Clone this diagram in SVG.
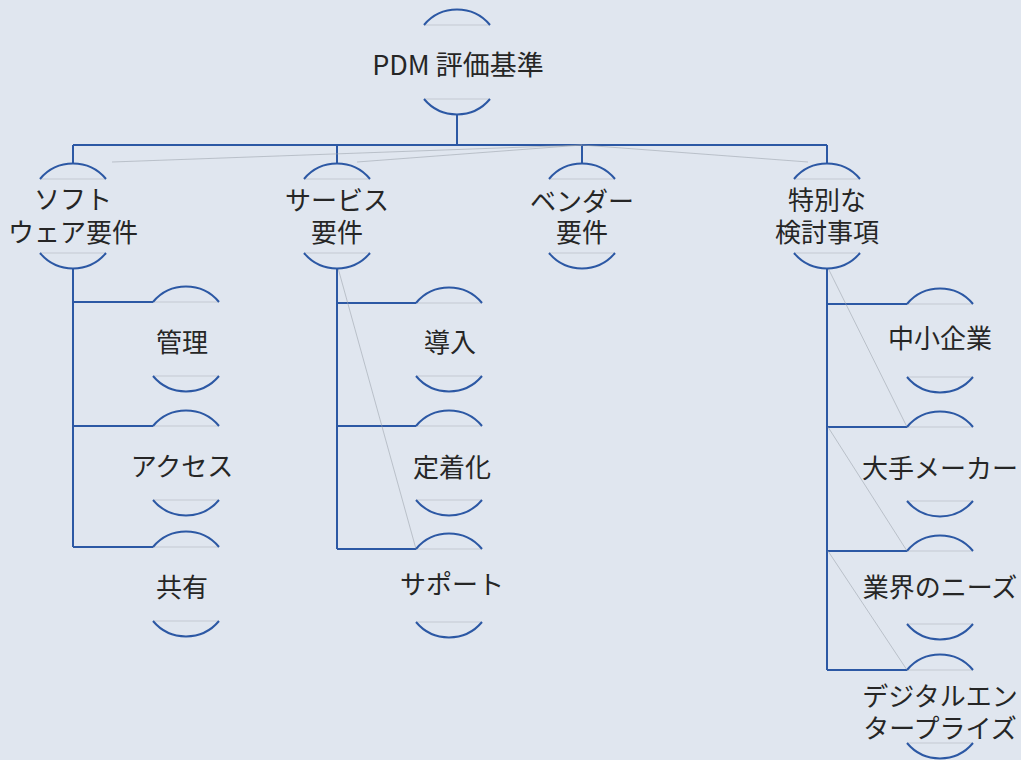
<svg xmlns="http://www.w3.org/2000/svg" width="1021" height="760" viewBox="0 0 1021 760">
<defs>
<style>
.arc{fill:none;stroke:#2c58a4;stroke-width:2}
.chord{fill:none;stroke:#c4c9d2;stroke-width:1}
.edge{fill:none;stroke:#2c58a4;stroke-width:2}
.faint{fill:none;stroke:#9aa1ab;stroke-width:0.8;opacity:0.7}
.lbl{font-family:"Noto Sans CJK JP","Noto Sans",sans-serif;font-size:26px;fill:#262626;text-anchor:middle;dominant-baseline:central}
</style>
</defs>
<rect width="1021" height="760" fill="#e0e6ef"/>
<g id="connectors">
<path class="edge" d="M457 115 V145 M73 145 H827 M73 145 V163 M337 145 V163 M582 145 V163 M827 145 V163"/>
<path class="edge" d="M73 268 V547 M73 302 H153 M73 426 H153 M73 547 H153"/>
<path class="edge" d="M337 268 V549 M337 303 H416 M337 426 H416 M337 549 H416"/>
<path class="edge" d="M827 268 V670 M827 304 H907 M827 427 H907 M827 551 H907 M827 670 H907"/>
<path class="faint" d="M112 162 L582 145 M357 162 L582 145 M582 145 L808 162"/>
<path class="faint" d="M338 268 L416 549 M828 268 L907 427 M828 427 L907 551 M828 551 L907 670"/>
</g>
<g id="root">
<line class="chord" x1="424" y1="25" x2="490" y2="25"/>
<line class="chord" x1="424" y1="99" x2="490" y2="99"/>
<path class="arc" d="M424 25 A43 43 0 0 1 490 25"/>
<path class="arc" d="M424 99 A43 43 0 0 0 490 99"/>
<text class="lbl" x="458" y="63" style="font-size:27px">PDM 評価基準</text>
</g>
<g id="n-software">
<line class="chord" x1="40" y1="179" x2="106" y2="179"/>
<line class="chord" x1="40" y1="253" x2="106" y2="253"/>
<path class="arc" d="M40 179 A43 43 0 0 1 106 179"/>
<path class="arc" d="M40 253 A43 43 0 0 0 106 253"/>
<text class="lbl" x="73" y="197">ソフト</text>
<text class="lbl" x="73" y="230">ウェア要件</text>
</g>
<g id="n-service">
<line class="chord" x1="304" y1="179" x2="370" y2="179"/>
<line class="chord" x1="304" y1="253" x2="370" y2="253"/>
<path class="arc" d="M304 179 A43 43 0 0 1 370 179"/>
<path class="arc" d="M304 253 A43 43 0 0 0 370 253"/>
<text class="lbl" x="337" y="198">サービス</text>
<text class="lbl" x="337" y="230">要件</text>
</g>
<g id="n-vendor">
<line class="chord" x1="549" y1="179" x2="615" y2="179"/>
<line class="chord" x1="549" y1="253" x2="615" y2="253"/>
<path class="arc" d="M549 179 A43 43 0 0 1 615 179"/>
<path class="arc" d="M549 253 A43 43 0 0 0 615 253"/>
<text class="lbl" x="582" y="199">ベンダー</text>
<text class="lbl" x="582" y="230">要件</text>
</g>
<g id="n-special">
<line class="chord" x1="794" y1="179" x2="860" y2="179"/>
<line class="chord" x1="794" y1="253" x2="860" y2="253"/>
<path class="arc" d="M794 179 A43 43 0 0 1 860 179"/>
<path class="arc" d="M794 253 A43 43 0 0 0 860 253"/>
<text class="lbl" x="827" y="198">特別な</text>
<text class="lbl" x="827" y="230">検討事項</text>
</g>
<g id="n-kanri">
<line class="chord" x1="153" y1="302" x2="219" y2="302"/>
<line class="chord" x1="153" y1="376" x2="219" y2="376"/>
<path class="arc" d="M153 302 A43 43 0 0 1 219 302"/>
<path class="arc" d="M153 376 A43 43 0 0 0 219 376"/>
<text class="lbl" x="182" y="340">管理</text>
</g>
<g id="n-access">
<line class="chord" x1="153" y1="426" x2="219" y2="426"/>
<line class="chord" x1="153" y1="500" x2="219" y2="500"/>
<path class="arc" d="M153 426 A43 43 0 0 1 219 426"/>
<path class="arc" d="M153 500 A43 43 0 0 0 219 500"/>
<text class="lbl" x="182" y="464">アクセス</text>
</g>
<g id="n-share">
<line class="chord" x1="153" y1="547" x2="219" y2="547"/>
<line class="chord" x1="153" y1="621" x2="219" y2="621"/>
<path class="arc" d="M153 547 A43 43 0 0 1 219 547"/>
<path class="arc" d="M153 621 A43 43 0 0 0 219 621"/>
<text class="lbl" x="182" y="585">共有</text>
</g>
<g id="n-intro">
<line class="chord" x1="416" y1="303" x2="482" y2="303"/>
<line class="chord" x1="416" y1="376" x2="482" y2="376"/>
<path class="arc" d="M416 303 A43 43 0 0 1 482 303"/>
<path class="arc" d="M416 376 A43 43 0 0 0 482 376"/>
<text class="lbl" x="450" y="340">導入</text>
</g>
<g id="n-teichaku">
<line class="chord" x1="416" y1="426" x2="482" y2="426"/>
<line class="chord" x1="416" y1="500" x2="482" y2="500"/>
<path class="arc" d="M416 426 A43 43 0 0 1 482 426"/>
<path class="arc" d="M416 500 A43 43 0 0 0 482 500"/>
<text class="lbl" x="452" y="465">定着化</text>
</g>
<g id="n-support">
<line class="chord" x1="416" y1="549" x2="482" y2="549"/>
<line class="chord" x1="416" y1="622" x2="482" y2="622"/>
<path class="arc" d="M416 549 A43 43 0 0 1 482 549"/>
<path class="arc" d="M416 622 A43 43 0 0 0 482 622"/>
<text class="lbl" x="452" y="582">サポート</text>
</g>
<g id="n-sme">
<line class="chord" x1="907" y1="304" x2="973" y2="304"/>
<line class="chord" x1="907" y1="377" x2="973" y2="377"/>
<path class="arc" d="M907 304 A43 43 0 0 1 973 304"/>
<path class="arc" d="M907 377 A43 43 0 0 0 973 377"/>
<text class="lbl" x="940" y="336">中小企業</text>
</g>
<g id="n-maker">
<line class="chord" x1="907" y1="427" x2="973" y2="427"/>
<line class="chord" x1="907" y1="501" x2="973" y2="501"/>
<path class="arc" d="M907 427 A43 43 0 0 1 973 427"/>
<path class="arc" d="M907 501 A43 43 0 0 0 973 501"/>
<text class="lbl" x="940" y="466">大手メーカー</text>
</g>
<g id="n-needs">
<line class="chord" x1="907" y1="551" x2="973" y2="551"/>
<line class="chord" x1="907" y1="624" x2="973" y2="624"/>
<path class="arc" d="M907 551 A43 43 0 0 1 973 551"/>
<path class="arc" d="M907 624 A43 43 0 0 0 973 624"/>
<text class="lbl" x="940" y="585">業界のニーズ</text>
</g>
<g id="n-digital">
<line class="chord" x1="907" y1="670" x2="973" y2="670"/>
<line class="chord" x1="907" y1="743" x2="973" y2="743"/>
<path class="arc" d="M907 670 A43 43 0 0 1 973 670"/>
<path class="arc" d="M907 743 A43 43 0 0 0 973 743"/>
<text class="lbl" x="940" y="694">デジタルエン</text>
<text class="lbl" x="940" y="726">タープライズ</text>
</g>
</svg>
